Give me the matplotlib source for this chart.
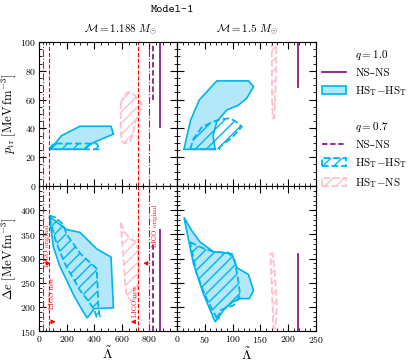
import numpy as np
import matplotlib
matplotlib.use("Agg")
import matplotlib.pyplot as plt
from matplotlib.lines import Line2D
from matplotlib.patches import Patch
from matplotlib.ticker import MultipleLocator

plt.rcParams['font.family'] = ['cmr10', 'DejaVu Serif']
plt.rcParams['mathtext.fontset'] = 'cm'
plt.rcParams['axes.formatter.use_mathtext'] = True
plt.rcParams['hatch.linewidth'] = 1.0

# ---- data ----
masses = ["1.188", "1.5"]
ligo_orig = [31, 800]
ligo_new = [70, 720]

# M = 1.188, p_tr
tl_fill_L = [75, 120, 164, 297, 522, 539, 390, 330]
tl_fill_p = [25.5, 30, 35, 41.5, 41.5, 36, 30, 25.5]
tl_hat_L = [75, 104, 418, 442]
tl_hat_p = [25.5, 29.5, 29.5, 25.5]
tl_pink_L = [592, 610, 640, 672, 700, 740, 751, 730, 700, 683, 660, 621, 599, 592]
tl_pink_p = [57, 62, 65, 65, 62, 58, 55, 52, 45, 37, 31, 29.6, 31, 40]
tl_ns10 = (877, [41, 100])
tl_ns07 = (824, [60, 100])

# M = 1.188, Delta e
bl_fill_L = [75, 200, 297, 418, 522, 539, 400, 350, 320, 285, 250, 200, 150, 104, 90]
bl_fill_e = [387, 360, 354, 320, 303, 198, 196, 177, 190, 207, 225, 255, 285, 324, 355]
bl_hat_L = [75, 120, 176, 200, 300, 418, 425, 430, 440, 418, 400, 350, 297, 250, 200, 150, 116, 90]
bl_hat_e = [389, 385, 370, 350, 310, 279, 240, 200, 180, 178, 195, 215, 234, 258, 282, 315, 341, 370]
bl_pink_L = [592, 620, 660, 700, 718, 720, 715, 700, 670, 640, 625, 615, 600]
bl_pink_e = [374, 355, 340, 335, 320, 280, 240, 215, 213, 220, 240, 290, 340]
bl_ns10 = (877, [150, 360])
bl_ns07 = (824, [150, 334])

# M = 1.5, p_tr
tr_fill_L = [12.6, 18, 24.6, 40, 55, 71.5, 128.6, 137.6, 125.6, 110, 89.6, 71.5, 65, 68.5]
tr_fill_p = [25.5, 35, 45.8, 59.7, 66, 73, 73, 69, 61, 56, 52.8, 44.7, 35, 25.5]
tr_hat_L = [23.4, 30, 45, 65.5, 80, 95, 105, 116.6, 100, 77.5, 75.7]
tr_hat_p = [25.5, 33, 41, 44.7, 46.5, 47, 45, 41.2, 34, 27.3, 25.5]
tr_pink_L = [170.7, 178.5, 178, 176, 175, 172, 171, 170.5]
tr_pink_p = [100, 100, 75, 55, 47, 47, 60, 80]
tr_ns10 = (217.5, [68.5, 100])

# M = 1.5, Delta e
br_fill_L = [12.6, 26.3, 41.5, 65.5, 98.6, 107.6, 128.5, 137.6, 130, 113.6, 100, 85, 68.5, 47.4, 29.4]
br_fill_e = [385, 358, 334, 314, 310, 281, 267, 234, 217, 217, 210, 195, 169, 227, 290]
br_hat_L = [23.4, 45, 65.5, 92.5, 104, 110, 113.6, 101.6, 77.5, 74.5, 65, 50, 35]
br_hat_e = [334, 322, 314, 312, 296, 255, 224, 203, 193, 172, 190, 225, 270]
br_pink_L = [168, 172, 175, 178, 180, 177, 173, 172, 170]
br_pink_e = [311, 311, 280, 240, 200, 155, 155, 200, 250]
br_ns10 = (217.5, [150, 309])

blue = '#00B4EE'
pink = '#FFC0CB'
purple = '#8B1C8B'
red = 'red'

fig = plt.figure(figsize=(4.11, 3.62), dpi=100)
W, H = 411.0, 362.0


def add_ax(x0, y0, x1, y1):
    return fig.add_axes([x0 / W, 1 - y1 / H, (x1 - x0) / W, (y1 - y0) / H])


ax_tl = add_ax(39, 42, 177, 186)
ax_tr = add_ax(177, 42, 316, 186)
ax_bl = add_ax(39, 186, 177, 331)
ax_br = add_ax(177, 186, 316, 331)


def draw(ax, fL, fy, hL, hy, pL, py):
    ax.fill(fL, fy, facecolor=blue, alpha=0.3, edgecolor='none')
    ax.fill(fL, fy, facecolor='none', edgecolor=blue, lw=1.2)
    ax.fill(hL, hy, facecolor='none', edgecolor=blue, hatch='///', ls='--', lw=1.3)
    ax.fill(pL, py, facecolor='none', edgecolor=pink, hatch='///', ls='--', lw=1.3)


draw(ax_tl, tl_fill_L, tl_fill_p, tl_hat_L, tl_hat_p, tl_pink_L, tl_pink_p)
draw(ax_bl, bl_fill_L, bl_fill_e, bl_hat_L, bl_hat_e, bl_pink_L, bl_pink_e)
draw(ax_tr, tr_fill_L, tr_fill_p, tr_hat_L, tr_hat_p, tr_pink_L, tr_pink_p)
draw(ax_br, br_fill_L, br_fill_e, br_hat_L, br_hat_e, br_pink_L, br_pink_e)

for ax, ns in [(ax_tl, tl_ns10), (ax_bl, bl_ns10), (ax_tr, tr_ns10), (ax_br, br_ns10)]:
    ax.plot([ns[0], ns[0]], ns[1], color=purple, lw=1.3)
for ax, ns in [(ax_tl, tl_ns07), (ax_bl, bl_ns07)]:
    ax.plot([ns[0], ns[0]], ns[1], color=purple, lw=1.3, ls=(0, (3, 1.5)))

for ax in [ax_tl, ax_bl]:
    for v in ligo_orig:
        ax.axvline(v, color=red, lw=0.8, ls='-.')
    for v in ligo_new:
        ax.axvline(v, color=red, lw=0.8, ls='--')

# LIGO annotations
arr = dict(arrowstyle='-|>', color=red, lw=0.8, mutation_scale=6)
ax_bl.annotate('', xy=(105, 290), xytext=(ligo_orig[0], 290), arrowprops=arr)
ax_bl.annotate('', xy=(140, 169), xytext=(ligo_new[0], 169), arrowprops=arr)
ax_bl.annotate('', xy=(735, 290), xytext=(ligo_orig[1], 290), arrowprops=arr)
ax_bl.annotate('', xy=(645, 169), xytext=(ligo_new[1], 169), arrowprops=arr)
tk = dict(color=red, fontsize=5, rotation=90, ha='center', va='center')
ax_bl.text(58, 327, 'LIGO original', **tk)
ax_bl.text(92, 228, 'LIGO new', **tk)
ax_bl.text(840, 367, 'LIGO original', **tk)
ax_bl.text(696, 212, 'LIGO new', **tk)

# limits and ticks
for ax in [ax_tl, ax_bl]:
    ax.set_xlim(0, 1000)
    ax.xaxis.set_major_locator(MultipleLocator(200))
    ax.xaxis.set_minor_locator(MultipleLocator(50))
for ax in [ax_tr, ax_br]:
    ax.set_xlim(0, 250)
    ax.xaxis.set_major_locator(MultipleLocator(50))
    ax.xaxis.set_minor_locator(MultipleLocator(10))
for ax in [ax_tl, ax_tr]:
    ax.set_ylim(0, 100)
    ax.yaxis.set_major_locator(MultipleLocator(20))
    ax.yaxis.set_minor_locator(MultipleLocator(5))
    ax.tick_params(labelbottom=False)
for ax in [ax_bl, ax_br]:
    ax.set_ylim(150, 450)
    ax.yaxis.set_major_locator(MultipleLocator(50))
    ax.yaxis.set_minor_locator(MultipleLocator(10))
for ax in [ax_tr, ax_br]:
    ax.tick_params(labelleft=False)
for ax in [ax_tl, ax_tr, ax_bl, ax_br]:
    ax.tick_params(which='both', direction='in', top=True, right=True, labelsize=7, pad=2)
    ax.tick_params(which='major', length=5, width=0.8)
    ax.tick_params(which='minor', length=2.5, width=0.6)

ax_bl.set_xticks([0, 200, 400, 600, 800])
ax_bl.set_yticks([150, 200, 250, 300, 350, 400])
ax_bl.set_xlim(0, 1000)
ax_bl.set_ylim(150, 450)

ax_tl.set_ylabel(r'$p_{\rm tr}\ [\mathrm{MeV\,fm^{-3}}]$', fontsize=9)
ax_bl.set_ylabel(r'$\Delta e\ [\mathrm{MeV\,fm^{-3}}]$', fontsize=9)
ax_tl.yaxis.set_label_coords(-0.15, 0.5)
ax_bl.yaxis.set_label_coords(-0.15, 0.5)
ax_bl.set_xlabel(r'$\tilde{\Lambda}$', fontsize=10, labelpad=1)
ax_br.set_xlabel(r'$\tilde{\Lambda}$', fontsize=10, labelpad=1)

fig.text(120 / W, 1 - 30 / H, r'$\mathcal{M} = %s\ M_{\odot}$' % masses[0], ha='center', va='center', fontsize=8)
fig.text(247 / W, 1 - 30 / H, r'$\mathcal{M} = %s\ M_{\odot}$' % masses[1], ha='center', va='center', fontsize=8)
fig.text(173 / W, 1 - 10 / H, 'Model-1', family=['cmtt10', 'DejaVu Sans Mono'], ha='center', va='center', fontsize=8.5)

# legend
blank = Line2D([], [], color='none')
handles = [
    blank,
    Line2D([], [], color=purple, lw=1.3),
    Patch(facecolor=(0.0, 0.706, 0.933, 0.3), edgecolor=blue, lw=1.2),
    blank,
    blank,
    Line2D([], [], color=purple, lw=1.3, ls=(0, (3, 1.5))),
    Patch(facecolor='none', edgecolor=blue, hatch='///', ls='--', lw=1.3),
    Patch(facecolor='none', edgecolor=pink, hatch='///', ls='--', lw=1.3),
]
labels = [r'$q = 1.0$', 'NS–NS', r'HS$_{\rm T}{-}$HS$_{\rm T}$', ' ',
          r'$q = 0.7$', 'NS–NS', r'HS$_{\rm T}{-}$HS$_{\rm T}$', r'HS$_{\rm T}{-}$NS']
fig.legend(handles, labels, loc='upper left', bbox_to_anchor=(322 / W, 1 - 48 / H),
           frameon=False, fontsize=8, handlelength=2.2, handletextpad=0.8,
           labelspacing=0.55, borderpad=0, borderaxespad=0)

fig.savefig('out.png', dpi=100)
